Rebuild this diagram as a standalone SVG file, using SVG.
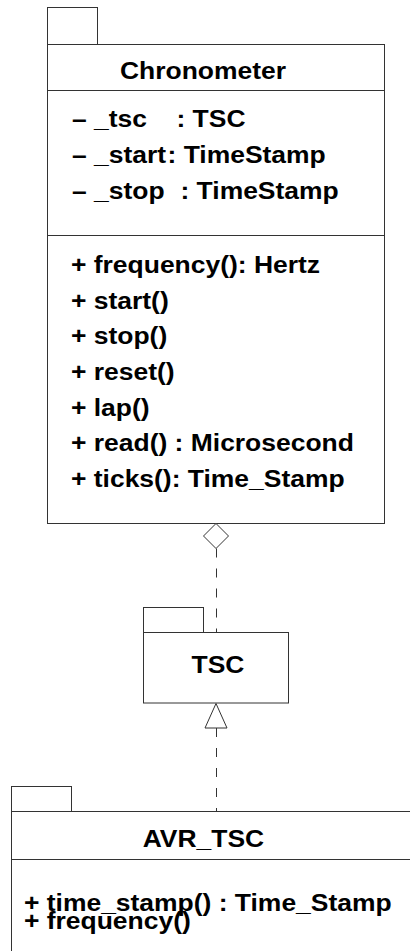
<svg xmlns="http://www.w3.org/2000/svg" width="410" height="951" viewBox="0 0 410 951">
  <style>
    .box { fill: #ffffff; stroke: #333333; stroke-width: 1; }
    .sep { stroke: #333333; stroke-width: 1; fill: none; }
    .lbl { font-family: "Liberation Sans", Arial, Helvetica, sans-serif; font-weight: bold; font-size: 24.5px; fill: #000000; }
    .mid { text-anchor: middle; }
    .dash { stroke: #333333; stroke-width: 1; stroke-dasharray: 9 11; fill: none; }
    .head { fill: #ffffff; stroke: #333333; stroke-width: 1; }
  </style>
  <rect width="410" height="951" fill="#ffffff"/>

  <!-- Chronometer class -->
  <g id="chronometer">
    <rect class="box" x="47.5" y="7.5" width="50" height="37"/>
    <rect class="box" x="47.5" y="44.5" width="337" height="479"/>
    <line class="sep" x1="47.5" y1="90.5" x2="384.5" y2="90.5"/>
    <line class="sep" x1="47.5" y1="235.5" x2="384.5" y2="235.5"/>
    <g transform="scale(1.08 1)">
      <text class="lbl" x="111.1" y="79">Chronometer</text>
      <text class="lbl" x="66.67" y="127">– _tsc<tspan x="163.4">: TSC</tspan></text>
      <text class="lbl" x="66.67" y="163">– _start<tspan x="155.1">: TimeStamp</tspan></text>
      <text class="lbl" x="66.67" y="199">– _stop<tspan x="167.1">: TimeStamp</tspan></text>
      <text class="lbl" x="65.74" y="273">+ frequency(): Hertz</text>
      <text class="lbl" x="65.74" y="308.7">+ start()</text>
      <text class="lbl" x="65.74" y="344.3">+ stop()</text>
      <text class="lbl" x="65.74" y="380">+ reset()</text>
      <text class="lbl" x="65.74" y="415.7">+ lap()</text>
      <text class="lbl" x="65.74" y="451.3">+ read() : Microsecond</text>
      <text class="lbl" x="65.74" y="487">+ ticks(): Time_Stamp</text>
    </g>
  </g>

  <!-- TSC class -->
  <g id="tsc">
    <rect class="box" x="143.5" y="607.5" width="60" height="25"/>
    <rect class="box" x="143.5" y="632.5" width="145" height="70.5"/>
    <g transform="scale(1.08 1)">
      <text class="lbl mid" x="201.85" y="673">TSC</text>
    </g>
  </g>

  <!-- AVR_TSC class -->
  <g id="avr_tsc">
    <rect class="box" x="11.5" y="786.5" width="60" height="25"/>
    <rect class="box" x="11.5" y="811.5" width="420" height="160"/>
    <line class="sep" x1="11.5" y1="859.5" x2="410" y2="859.5"/>
    <g transform="scale(1.08 1)">
      <text class="lbl mid" x="188.4" y="847">AVR_TSC</text>
      <text class="lbl" x="22.2" y="911">+ time_stamp() : Time_Stamp</text>
      <text class="lbl" x="22.2" y="929">+ frequency()</text>
    </g>
  </g>

  <!-- Connectors -->
  <g id="connectors">
    <!-- aggregation: Chronometer holds a TSC -->
    <line class="dash" x1="216.5" y1="548.5" x2="216.5" y2="632.5"/>
    <polygon class="head" points="216,523.5 228.5,536 216,548.5 203.5,536"/>
    <!-- realization: AVR_TSC implements TSC -->
    <line class="dash" x1="216.5" y1="728" x2="216.5" y2="811.5"/>
    <polygon class="head" points="216,703.5 227,728 205,728"/>
  </g>
</svg>
